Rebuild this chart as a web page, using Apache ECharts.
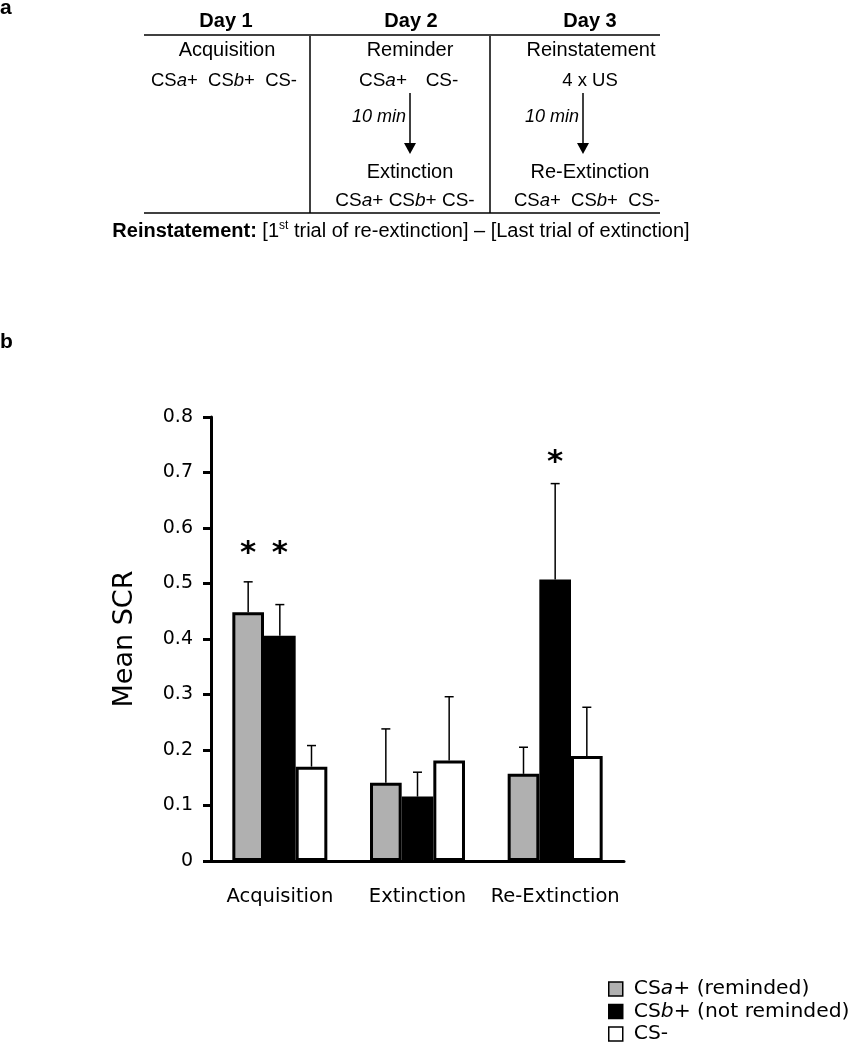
<!DOCTYPE html>
<html><head><meta charset="utf-8">
<script src="https://cdn.jsdelivr.net/npm/echarts@6/dist/echarts.min.js"></script>
<style>html,body{margin:0;padding:0;background:#fff}#c{width:852px;height:1050px}</style>
</head><body><div id="c"></div>
<script>
// ---- data ----
const categories = ['Acquisition', 'Extinction', 'Re-Extinction'];
const seriesNames = ['CSa+ (reminded)', 'CSb+ (not reminded)', 'CS-'];
const csaMean = [0.448, 0.141, 0.157];
const csaErr = [0.055, 0.097, 0.048];
const csbMean = [0.406, 0.116, 0.507];
const csbErr = [0.056, 0.044, 0.173];
const csMinusMean = [0.170, 0.181, 0.189];
const csMinusErr = [0.038, 0.115, 0.088];
// significance markers: [category index, series index, height]
const stars = [[0, 0, 0.566], [0, 1, 0.566], [2, 1, 0.73]];
const yMin = 0, yMax = 0.8, yStep = 0.1;

// ---- build ----
const means = [csaMean, csbMean, csMinusMean];
const errs = [csaErr, csbErr, csMinusErr];
const fills = ['#b0b0b0', '#000000', '#ffffff'];
const BAR_FRAC = 0.23;
const errData = [];
means.forEach((m, s) => m.forEach((v, i) => errData.push([i, s, v, errs[s][i]])));

const CF = 'DejaVu Sans';
const TF = 'Liberation Sans';

function renderErr(params, api) {
  const cat = api.value(0), s = api.value(1), m = api.value(2), e = api.value(3);
  const bw = api.size([1, 0])[0] * BAR_FRAC;
  const p0 = api.coord([cat, m]);
  const p1 = api.coord([cat, m + e]);
  const x = p0[0] + (s - 1) * bw;
  const cap = 4.5;
  return {
    type: 'group', children: [
      { type: 'line', shape: { x1: x, y1: p0[1], x2: x, y2: p1[1] }, style: { stroke: '#000', lineWidth: 1.5 } },
      { type: 'line', shape: { x1: x - cap, y1: p1[1], x2: x + cap, y2: p1[1] }, style: { stroke: '#000', lineWidth: 1.5 } }
    ]
  };
}
function renderStar(params, api) {
  const cat = api.value(0), s = api.value(1), h = api.value(2);
  const bw = api.size([1, 0])[0] * BAR_FRAC;
  const p = api.coord([cat, h]);
  const fs = 31;
  return {
    type: 'text', x: p[0] + (s - 1) * bw, y: p[1] + fs * 0.22,
    style: { text: '*', fontSize: fs, fontWeight: 'bold', fontFamily: CF, fill: '#000', align: 'center', verticalAlign: 'middle' }
  };
}

function csRich(fs) {
  return {
    n: { fontSize: fs, fontFamily: TF, fill: '#000' },
    i: { fontSize: fs, fontFamily: TF, fontStyle: 'italic', fill: '#000' }
  };
}
function T(x, y, text, o) {
  return { type: 'text', x: x, y: y, style: Object.assign({ text: text, fontFamily: TF, fontSize: 20, fill: '#000', align: 'center', verticalAlign: 'middle' }, o || {}) };
}
function L(x1, y1, x2, y2) {
  return { type: 'line', shape: { x1, y1, x2, y2 }, style: { stroke: '#000', lineWidth: 1.5 } };
}
function arrow(x, y1, y2) {
  return [L(x, y1, x, y2 - 10), { type: 'polygon', shape: { points: [[x - 6, y2 - 11], [x + 6, y2 - 11], [x, y2]] }, style: { fill: '#000' } }];
}

const graphics = [].concat(
  [
    T(0, 8, 'a', { fontWeight: 'bold', fontSize: 21, align: 'left' }),
    T(0, 342, 'b', { fontWeight: 'bold', fontSize: 21, align: 'left' }),
    T(226, 21, 'Day 1', { fontWeight: 'bold', fontSize: 20 }),
    T(411, 21, 'Day 2', { fontWeight: 'bold', fontSize: 20 }),
    T(590, 21, 'Day 3', { fontWeight: 'bold', fontSize: 20 }),
    L(144, 35, 660, 35), L(144, 213, 660, 213), L(310, 36, 310, 213), L(490, 36, 490, 213),
    T(227, 50, 'Acquisition'), T(410, 50, 'Reminder'), T(591, 50, 'Reinstatement'),
    T(224, 81, '{n|CS}{i|a}{n|+}  {n|CS}{i|b}{n|+}  {n|CS-}', { fontSize: 18.5, rich: csRich(18.5) }),
    T(383, 81, '{n|CS}{i|a}{n|+}', { fontSize: 19, rich: csRich(19) }),
    T(442, 81, 'CS-', { fontSize: 19 }),
    T(590, 81, '4 x US', { fontSize: 18.5 }),
    T(406, 117, '10 min', { fontSize: 18, fontStyle: 'italic', align: 'right' }),
    T(579, 117, '10 min', { fontSize: 18, fontStyle: 'italic', align: 'right' }),
    T(410, 172, 'Extinction'), T(590, 172, 'Re-Extinction'),
    T(405, 201, '{n|CS}{i|a}{n|+} {n|CS}{i|b}{n|+} {n|CS-}', { fontSize: 19, rich: csRich(19) }),
    T(587, 201, '{n|CS}{i|a}{n|+}  {n|CS}{i|b}{n|+}  {n|CS-}', { fontSize: 18.5, rich: csRich(18.5) }),
    T(401, 231, '{b|Reinstatement:} [1{s|st} trial of re-extinction] – [Last trial of extinction]', {
      fontSize: 20, lineHeight: 23,
      rich: {
        b: { fontSize: 20, fontFamily: TF, fontWeight: 'bold', fill: '#000', lineHeight: 23 },
        s: { fontSize: 12, fontFamily: TF, fill: '#000', lineHeight: 14, verticalAlign: 'top' }
      }
    })
  ],
  arrow(410, 93, 154),
  arrow(583, 93, 154)
);

const legendRich = {
  f: { fontSize: 20.3, fontFamily: CF, color: '#000', padding: [0, 0, 0, 6], lineHeight: 22 },
  n: { fontSize: 20.3, fontFamily: CF, color: '#000', lineHeight: 22 },
  i: { fontSize: 20.3, fontFamily: CF, fontStyle: 'italic', color: '#000', lineHeight: 22 }
};
function legendFmt(name) {
  if (name === seriesNames[0]) return '{f|CS}{i|a}{n|+ (reminded)}';
  if (name === seriesNames[1]) return '{f|CS}{i|b}{n|+ (not reminded)}';
  return '{f|CS-}';
}

const option = {
  animation: false,
  backgroundColor: '#fff',
  graphic: graphics,
  grid: { left: 211, right: 228, top: 417, bottom: 189 },
  legend: {
    data: seriesNames, orient: 'vertical', left: 603, top: 973, padding: 5,
    itemWidth: 14, itemHeight: 14, itemGap: 0.5, icon: 'rect',
    itemStyle: { borderWidth: 1.5, borderColor: '#000' },
    formatter: legendFmt,
    textStyle: { fontFamily: CF, fontSize: 20.3, color: '#000', lineHeight: 22, rich: legendRich }
  },
  xAxis: {
    type: 'category', data: categories,
    axisLine: { lineStyle: { color: '#000', width: 3 } },
    axisTick: { show: false },
    axisLabel: { color: '#000', fontFamily: CF, fontSize: 19.5, margin: 26, interval: 0 }
  },
  yAxis: {
    type: 'value', min: yMin, max: yMax, interval: yStep,
    name: 'Mean SCR', nameLocation: 'middle', nameGap: 73,
    nameTextStyle: { color: '#000', fontFamily: CF, fontSize: 27 },
    axisLine: { show: true, lineStyle: { color: '#000', width: 3 } },
    axisTick: { show: true, length: 8, lineStyle: { color: '#000', width: 3 } },
    axisLabel: { color: '#000', fontFamily: CF, fontSize: 19, margin: 18 },
    splitLine: { show: false }
  },
  series: seriesNames.map((n, s) => ({
    name: n, type: 'bar', data: means[s], barWidth: (BAR_FRAC * 100) + '%', barGap: '0%',
    itemStyle: { color: fills[s], borderColor: '#000', borderWidth: 3 }
  })).concat([
    { type: 'custom', name: 'err', data: errData, renderItem: renderErr, z: 5, encode: { x: 0, y: 2 } },
    { type: 'custom', name: 'sig', data: stars, renderItem: renderStar, z: 5, encode: { x: 0, y: 2 } }
  ])
};
const chart = echarts.init(document.getElementById('c'), null, { renderer: 'canvas' });
chart.setOption(option);
</script></body></html>
